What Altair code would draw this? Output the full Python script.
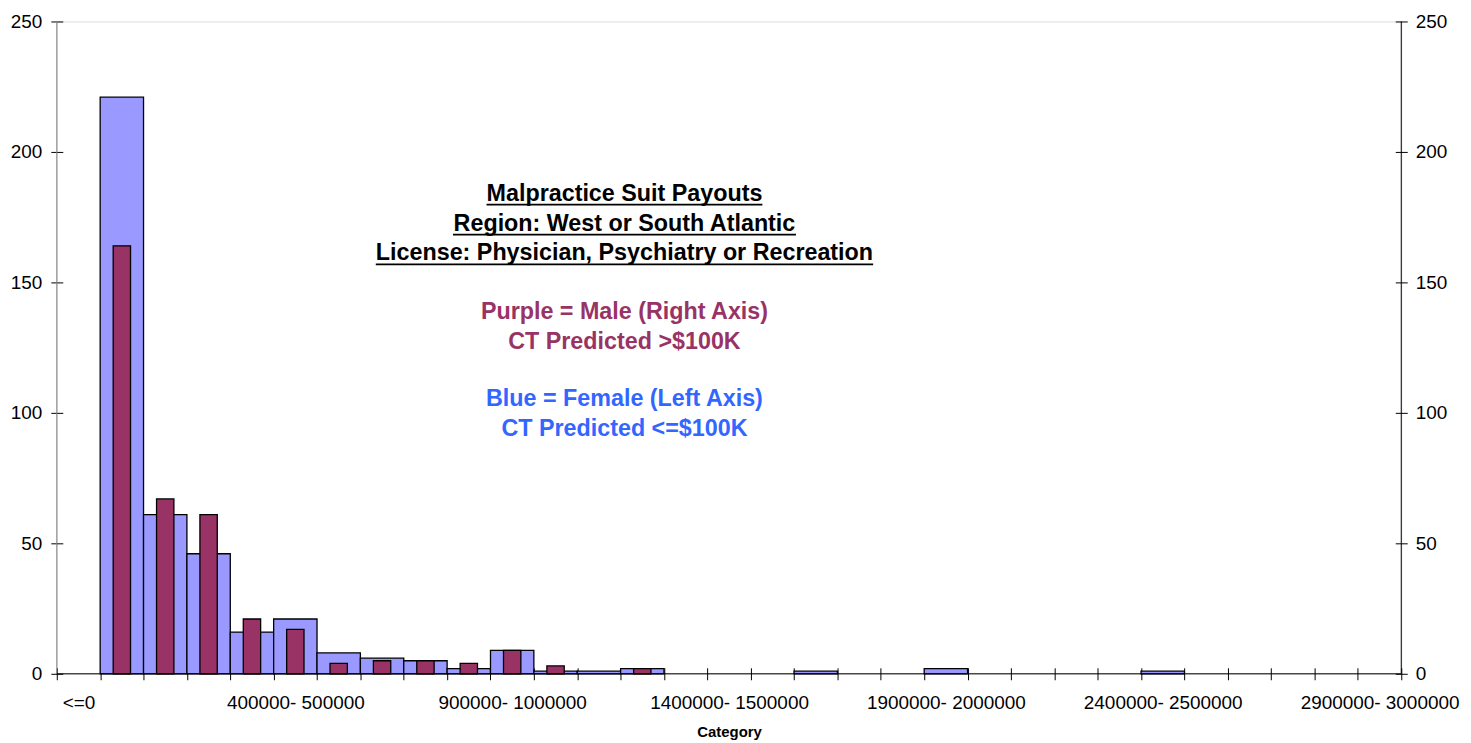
import altair as alt
import pandas as pd

categories = [
    "<=0", "0- 100000", "100000- 200000", "200000- 300000", "300000- 400000",
    "400000- 500000", "500000- 600000", "600000- 700000", "700000- 800000",
    "800000- 900000", "900000- 1000000", "1000000- 1100000", "1100000- 1200000",
    "1200000- 1300000", "1300000- 1400000", "1400000- 1500000", "1500000- 1600000",
    "1600000- 1700000", "1700000- 1800000", "1800000- 1900000", "1900000- 2000000",
    "2000000- 2100000", "2100000- 2200000", "2200000- 2300000", "2300000- 2400000",
    "2400000- 2500000", "2500000- 2600000", "2600000- 2700000", "2700000- 2800000",
    "2800000- 2900000", "2900000- 3000000",
]
female_counts = [0, 221, 61, 46, 16, 21, 8, 6, 5, 2, 9, 1, 1, 2, 0, 0, 0, 1, 0, 0,
                 2, 0, 0, 0, 0, 1, 0, 0, 0, 0, 0]
male_counts = [0, 164, 67, 61, 21, 17, 4, 5, 5, 4, 9, 3, 0, 2, 0, 0, 0, 0, 0, 0,
               0, 0, 0, 0, 0, 0, 0, 0, 0, 0, 0]
shown_labels = ["<=0", "400000- 500000", "900000- 1000000", "1400000- 1500000",
                "1900000- 2000000", "2400000- 2500000", "2900000- 3000000"]
y_ticks = [0, 50, 100, 150, 200, 250]

title_lines = ["Malpractice Suit Payouts", "Region: West or South Atlantic",
               "License: Physician, Psychiatry or Recreation"]
male_lines = ["Purple = Male (Right Axis)", "CT Predicted >$100K"]
female_lines = ["Blue = Female (Left Axis)", "CT Predicted <=$100K"]

df = pd.DataFrame({"category": categories, "female": female_counts, "male": male_counts})

W, H = 1350, 655
FONT = "Liberation Sans"
PURPLE = "#993366"
BLUE_FILL = "#9999FF"
BLUE_TEXT = "#3366FF"

label_list = "[" + ",".join("'" + s + "'" for s in shown_labels) + "]"
x_enc = alt.X(
    "category:N",
    sort=categories,
    scale=alt.Scale(domain=categories, paddingInner=0, paddingOuter=0),
    axis=alt.Axis(
        title="Category", labelAngle=0, tickBand="extent",
        labelExpr=f"indexof({label_list}, datum.value) >= 0 ? datum.value : ''",
        labelOverlap=False, labelBound=False,
        offset=-6, tickSize=12, domain=False, grid=False,
        tickColor="black", tickWidth=1,
        labelFont=FONT, labelFontSize=19, labelColor="black", labelPadding=14,
        titleFont=FONT, titleFontSize=15, titleFontWeight="bold", titleColor="black",
        titlePadding=12,
    ),
)

yscale = alt.Scale(domain=[0, 250], nice=False)

def y_axis(orient, pad):
    return alt.Axis(
        orient=orient, values=y_ticks, title=None, offset=-6, tickSize=12,
        domain=False, grid=False, tickColor="black", tickWidth=1,
        labelFont=FONT, labelFontSize=19, labelColor="black", labelPadding=pad,
    )

base = alt.Chart(df)

blue = base.mark_bar(fill=BLUE_FILL, stroke="black", strokeWidth=1.3).encode(
    x=x_enc,
    y=alt.Y("female:Q", scale=yscale, axis=y_axis("left", 9)),
).transform_filter("datum.female > 0")

purple = base.mark_bar(fill=PURPLE, stroke="black", strokeWidth=1.3,
                       width=alt.RelativeBandSize(0.4)).encode(
    x=x_enc,
    y=alt.Y("male:Q", scale=yscale, axis=y_axis("right", 8)),
).transform_filter("datum.male > 0")

bars = alt.layer(blue, purple).resolve_scale(y="independent")

left_line = alt.Chart().mark_rule(color="#808080", strokeWidth=1).encode(
    x=alt.value(0), y=alt.value(0), y2=alt.value(H))
right_line = alt.Chart().mark_rule(color="black", strokeWidth=1).encode(
    x=alt.value(W), y=alt.value(0), y2=alt.value(H))
bottom_line = alt.Chart().mark_rule(color="black", strokeWidth=1).encode(
    x=alt.value(0), x2=alt.value(W), y=alt.value(H))

CX = 570
title_text = alt.Chart().mark_text(
    font=FONT, fontSize=23.4, fontWeight="bold", color="black",
    align="center", baseline="alphabetic", lineHeight=30,
).encode(x=alt.value(CX), y=alt.value(180), text=alt.value(title_lines))

male_text = alt.Chart().mark_text(
    font=FONT, fontSize=23.4, fontWeight="bold", color=PURPLE,
    align="center", baseline="alphabetic", lineHeight=30,
).encode(x=alt.value(CX), y=alt.value(298.4), text=alt.value(male_lines))

female_text = alt.Chart().mark_text(
    font=FONT, fontSize=23.4, fontWeight="bold", color=BLUE_TEXT,
    align="center", baseline="alphabetic", lineHeight=30,
).encode(x=alt.value(CX), y=alt.value(386.4), text=alt.value(female_lines))

underline_spans = [(431.5, 708.5, 184), (397.8, 742.2, 214), (320.3, 819.7, 244)]
underlines = [
    alt.Chart().mark_rule(color="black", strokeWidth=1.8).encode(
        x=alt.value(a), x2=alt.value(b), y=alt.value(yy))
    for a, b, yy in underline_spans
]

chart = alt.layer(
    bars, left_line, right_line, bottom_line, title_text, male_text, female_text, *underlines
).properties(
    width=W, height=H,
    autosize=alt.AutoSizeParams(type="none"),
    padding={"left": 49, "top": 12, "right": 62, "bottom": 75},
).configure_view(stroke=None).configure(background="white")

chart.save("out.html", embed_options={"renderer": "svg", "actions": False})
